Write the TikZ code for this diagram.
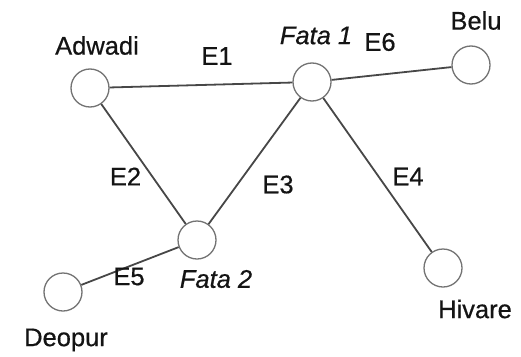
\documentclass[tikz,border=0pt]{standalone}
\usepackage{fontspec}
\setmainfont{Liberation Sans}
\newfontfamily\lblfont[FakeBold=0.6]{Liberation Sans}
\begin{document}
\begin{tikzpicture}[x=1pt,y=-1pt,
  vtx/.style={circle,draw=black!55,line width=1.3pt,fill=white,minimum size=38pt,inner sep=0pt},
  lbl/.style={font=\lblfont\fontsize{25.5}{27}\selectfont,inner sep=0pt,text=black!92},
  ilbl/.style={lbl,font=\lblfont\fontsize{25.5}{27}\selectfont\itshape},
  edge/.style={draw=black!72,line width=1.8pt}]
\useasboundingbox (0,0) rectangle (521,356);
\node[vtx] (adw) at (90,88) {};
\node[vtx] (f1) at (312,82) {};
\node[vtx] (belu) at (471,65) {};
\node[vtx] (f2) at (197,240) {};
\node[vtx] (deo) at (63,292) {};
\node[vtx] (hiv) at (443,268) {};
\draw[edge] (adw) -- (f1);
\draw[edge] (adw) -- (f2);
\draw[edge] (f1) -- (f2);
\draw[edge] (f1) -- (hiv);
\draw[edge] (f1) -- (belu);
\draw[edge] (f2) -- (deo);
\node[lbl] (tadw) at (97,45.5) {Adwadi};
\node[lbl] (te1) at (217,56) {E1};
\node[ilbl] (tf1) at (316,35.5) {Fata 1};
\node[lbl] (te6) at (380,42) {E6};
\node[lbl] (tbelu) at (476,20.5) {Belu};
\node[lbl] (te2) at (125.5,176.5) {E2};
\node[lbl] (te3) at (278,184.5) {E3};
\node[lbl] (te4) at (408,176.5) {E4};
\node[lbl] (te5) at (129,276.5) {E5};
\node[ilbl] (tf2) at (216,279) {Fata 2};
\node[lbl] (tdeo) at (66,340) {Deopur};
\node[lbl] (thiv) at (475,309) {Hivare};
\end{tikzpicture}
\end{document}
